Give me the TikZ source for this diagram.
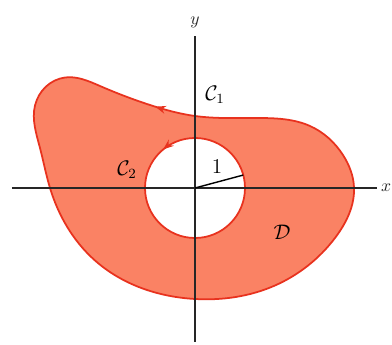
\documentclass[tikz,border=0pt]{standalone}
\usepackage{amsmath, amssymb}
\usepackage{tikz}
\usetikzlibrary{arrows.meta, calc, decorations.markings, hobby, positioning}

\definecolor{regionfill}{RGB}{250,130,100}
\definecolor{regionline}{RGB}{232,50,30}

\begin{document}
\begin{tikzpicture}[
    axis/.style={line width=0.8pt, black!85},
    boundary/.style={regionline, line width=1pt},
    lbl/.style={font=\large}]
  \useasboundingbox (-3.9,-3.14) rectangle (3.94,3.76);
  % outer curve C1, region D
  \draw[boundary, fill=regionfill, use Hobby shortcut, closed=true,
      postaction={decorate}, decoration={markings,
      mark=at position 0.047 with {\arrow{Stealth[length=6pt]}}}]
    (0,1.44) .. (-0.9,1.66) .. (-1.9,2.04) .. (-2.6,2.21) .. (-3.2,1.65) .. (-3.1,0.8)
    .. (-2.9,0) .. (-2.0,-1.45) .. (0,-2.22) .. (1.6,-1.95) .. (2.8,-1.0)
    .. (3.18,0.02) .. (2.96,0.66) .. (2.3,1.24) .. (1.3,1.4);
  % inner circle C2
  \draw[boundary, fill=white, postaction={decorate}, decoration={markings,
      mark=at position 0.36 with {\arrow{Stealth[length=6pt]}}}]
    (1,0) arc (0:360:1);
  % axes
  \draw[axis] (-3.66,0) -- (3.64,0) node[right, inner sep=2pt] (xlab) {$x$};
  \draw[axis] (0,-3.08) -- (0,3.04) node[above, inner sep=4pt] (ylab) {$y$};
  % radius
  \draw[line width=0.8pt] (0,0) -- (15:1);
  \node[lbl] (one) at (0.44,0.42) {$1$};
  \node[lbl] (c1) at (0.4,1.86) {$\mathcal{C}_1$};
  \node[lbl] (c2) at (-1.36,0.36) {$\mathcal{C}_2$};
  \node[lbl] (dom) at (1.74,-0.88) {$\mathcal{D}$};
\end{tikzpicture}
\end{document}
